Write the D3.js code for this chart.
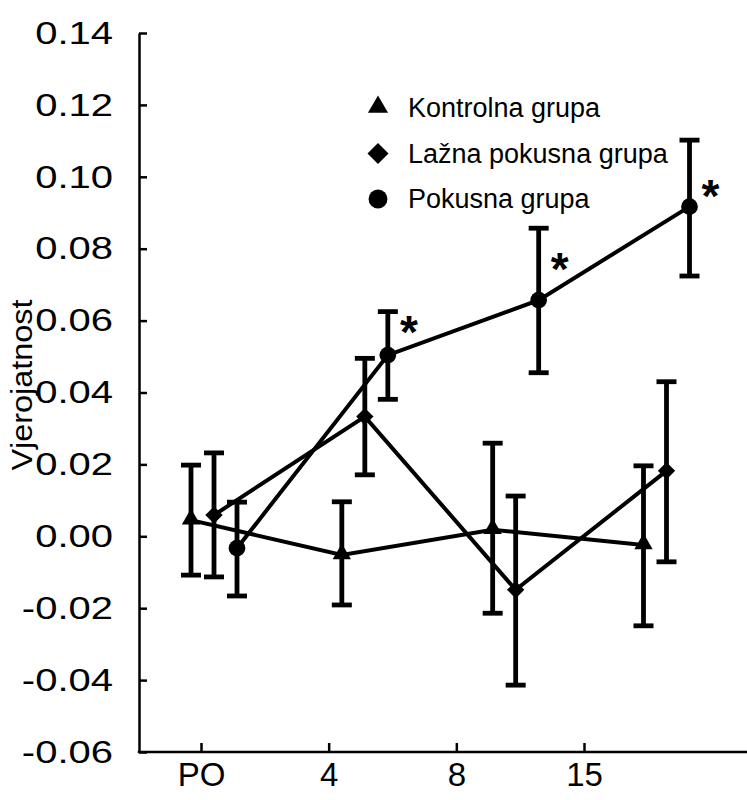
<!DOCTYPE html>
<html>
<head>
<meta charset="utf-8">
<script src="https://cdn.jsdelivr.net/npm/d3@7"></script>
<style>
  html, body { margin: 0; padding: 0; background: #fff; }
  svg { display: block; font-family: "Liberation Sans", Arial, sans-serif; }
</style>
</head>
<body>
<svg id="chart" width="747" height="800"></svg>
<script>
// ---- data ----
const categories = ["PO", "4", "8", "15"];
const yTicks = [-0.06, -0.04, -0.02, 0.00, 0.02, 0.04, 0.06, 0.08, 0.10, 0.12, 0.14];
const seriesNames = ["Kontrolna grupa", "Lažna pokusna grupa", "Pokusna grupa"];

const kontrolnaMean  = [0.0045, -0.0052, 0.0018, -0.0024];
const kontrolnaUpper = [0.0198, 0.0096, 0.0259, 0.0196];
const kontrolnaLower = [-0.0108, -0.0191, -0.0214, -0.0249];

const laznaMean  = [0.0059, 0.0333, -0.0149, 0.0182];
const laznaUpper = [0.0232, 0.0495, 0.0112, 0.0430];
const laznaLower = [-0.0113, 0.0171, -0.0414, -0.0071];

const pokusnaMean  = [-0.0033, 0.0504, 0.0657, 0.0917];
const pokusnaUpper = [0.0095, 0.0625, 0.0857, 0.1102];
const pokusnaLower = [-0.0166, 0.0381, 0.0455, 0.0724];

const significantCats = ["4", "8", "15"];
const significantY = [0.0588, 0.0763, 0.0965];

// ---- layout ----
const svg = d3.select("#chart");
const axisX = 139, axisTop = 33, axisBottom = 752, axisRight = 747;

const y = d3.scaleLinear().domain([-0.06, 0.14]).range([axisBottom, axisTop]);
const xTick = d3.scalePoint().domain(categories).range([201, 584]);
const xData = d3.scalePoint().domain(categories).range([214, 666.5]);
const dodge = d3.scalePoint().domain(seriesNames).range([-23, 23]);

const series = [
  { name: seriesNames[0], mean: kontrolnaMean, upper: kontrolnaUpper, lower: kontrolnaLower, symbol: "triangle" },
  { name: seriesNames[1], mean: laznaMean, upper: laznaUpper, lower: laznaLower, symbol: "diamond" },
  { name: seriesNames[2], mean: pokusnaMean, upper: pokusnaUpper, lower: pokusnaLower, symbol: "circle" }
];

const plotSizes = { triangle: 145, diamond: 150, circle: 220 };
const legendSizes = { triangle: 175, diamond: 220, circle: 280 };

function symbolPath(kind, sizes) {
  const t = kind === "triangle" ? d3.symbolTriangle : kind === "diamond" ? d3.symbolSquare : d3.symbolCircle;
  return d3.symbol().type(t).size(sizes[kind])();
}
function symbolTransform(kind, cx, cy) {
  if (kind === "diamond") return `translate(${cx},${cy}) rotate(45)`;
  if (kind === "triangle") return `translate(${cx},${cy - 1})`;
  return `translate(${cx},${cy})`;
}

// ---- axes ----
const yAxis = d3.axisLeft(y).tickValues(yTicks)
  .tickSizeInner(-8).tickSizeOuter(0).tickPadding(26);
const gy = svg.append("g").attr("transform", `translate(${axisX},0)`).call(yAxis);
gy.select(".domain").attr("stroke", "#000").attr("stroke-width", 2.5);
gy.selectAll(".tick line").attr("stroke", "#000").attr("stroke-width", 2.5);
gy.selectAll(".tick text")
  .attr("font-size", 32).attr("fill", "#000")
  .attr("x", 0)
  .attr("transform", "translate(-26,0) scale(1.25,1)")
  .text(d => d3.format(".2f")(d).replace("−", "-"));

const xAxis = d3.axisBottom(xTick).tickSizeInner(-9).tickSizeOuter(0).tickPadding(11);
const gx = svg.append("g").attr("transform", `translate(0,${axisBottom})`).call(xAxis);
gx.select(".domain").remove();
gx.append("line").attr("x1", axisX - 1.25).attr("x2", axisRight).attr("y1", 0).attr("y2", 0)
  .attr("stroke", "#000").attr("stroke-width", 2.5);
gx.selectAll(".tick line").attr("stroke", "#000").attr("stroke-width", 2.5);
gx.selectAll(".tick text").attr("font-size", 33).attr("fill", "#000").attr("dy", "0.71em");

svg.append("text")
  .attr("transform", `translate(32,385) rotate(-90) scale(1.08,1)`)
  .attr("text-anchor", "middle")
  .attr("font-size", 30)
  .attr("fill", "#000")
  .text("Vjerojatnost");

// ---- lines ----
const plot = svg.append("g");
series.forEach(s => {
  const pts = categories.map((c, i) => [xData(c) + dodge(s.name), y(s.mean[i])]);
  plot.append("path").attr("d", d3.line()(pts))
    .attr("fill", "none").attr("stroke", "#000").attr("stroke-width", 4);
});

// ---- error bars ----
series.forEach(s => {
  categories.forEach((c, i) => {
    const cx = xData(c) + dodge(s.name);
    const g = plot.append("g").attr("stroke", "#000").attr("stroke-width", 4.8);
    g.append("line").attr("x1", cx).attr("x2", cx).attr("y1", y(s.upper[i])).attr("y2", y(s.lower[i]));
    g.append("line").attr("x1", cx - 10).attr("x2", cx + 10).attr("y1", y(s.upper[i])).attr("y2", y(s.upper[i]));
    g.append("line").attr("x1", cx - 10).attr("x2", cx + 10).attr("y1", y(s.lower[i])).attr("y2", y(s.lower[i]));
  });
});

// ---- markers ----
series.forEach(s => {
  categories.forEach((c, i) => {
    const cx = xData(c) + dodge(s.name);
    plot.append("path").attr("d", symbolPath(s.symbol, plotSizes))
      .attr("transform", symbolTransform(s.symbol, cx, y(s.mean[i])))
      .attr("fill", "#000");
  });
});

// ---- significance asterisks ----
significantCats.forEach((c, i) => {
  svg.append("text")
    .attr("x", xData(c) + dodge(seriesNames[2]) + 21)
    .attr("y", y(significantY[i]))
    .attr("dy", "0.5em")
    .attr("text-anchor", "middle")
    .attr("font-size", 46)
    .attr("font-weight", "bold")
    .attr("fill", "#000")
    .text("*");
});

// ---- legend ----
const legendY = d3.scalePoint().domain(seriesNames).range([108, 199]);
series.forEach(s => {
  const ly = legendY(s.name);
  svg.append("path").attr("d", symbolPath(s.symbol, legendSizes))
    .attr("transform", symbolTransform(s.symbol, 378, ly))
    .attr("fill", "#000");
  svg.append("text").attr("x", 408).attr("y", ly).attr("dy", "0.35em")
    .attr("font-size", 27).attr("fill", "#000").text(s.name);
});
</script>
</body>
</html>
